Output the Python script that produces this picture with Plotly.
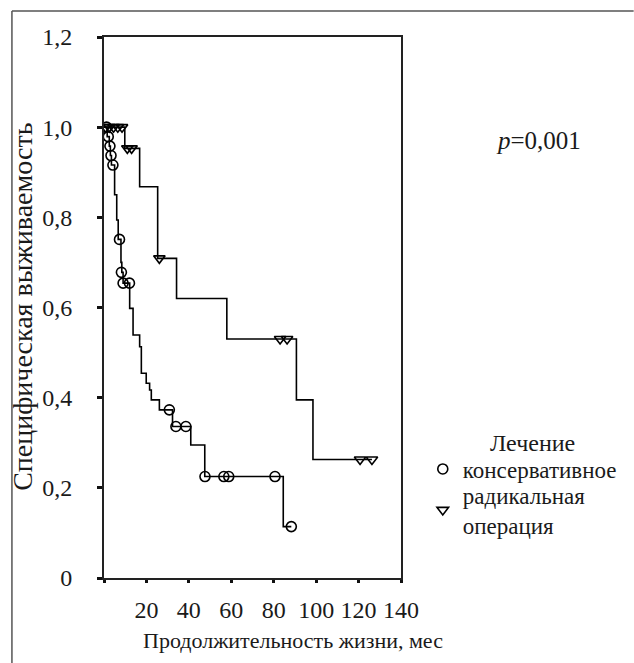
import plotly.graph_objects as go

# ---- data ----
cons_times = [0, 1.5, 2.5, 3, 3.5, 5, 6, 6.7, 8, 8.4, 9, 12.1, 13.7, 16.8, 17.6, 19.9,
              21.5, 22.3, 26.1, 32.3, 40.9, 47.5, 84.5]
cons_surv = [1.0, 0.979, 0.958, 0.937, 0.916, 0.85, 0.794, 0.751, 0.70, 0.678, 0.654,
             0.598, 0.539, 0.513, 0.454, 0.432, 0.417, 0.395, 0.373, 0.336, 0.295,
             0.225, 0.114]
cons_end = 88.3
cons_cens_t = [1.2, 2.0, 2.8, 3.3, 4.2, 7.3, 8.2, 9.0, 12.0, 30.8, 33.9, 38.6, 47.6,
               56.5, 58.8, 80.6, 88.3]
cons_cens_s = [1.0, 0.979, 0.958, 0.937, 0.916, 0.751, 0.678, 0.654, 0.654, 0.373,
               0.336, 0.336, 0.225, 0.225, 0.225, 0.225, 0.114]

rad_times = [0, 9.8, 16.8, 25.3, 34.2, 57.9, 90.7, 98.5]
rad_surv = [1.0, 0.953, 0.868, 0.709, 0.620, 0.530, 0.395, 0.263]
rad_end = 126.3
rad_cens_t = [0.8, 2.5, 4.5, 6.5, 8.5, 11.0, 13.0, 26.1, 83.0, 86.3, 120.7, 126.3]
rad_cens_s = [1.0, 1.0, 1.0, 1.0, 1.0, 0.953, 0.953, 0.709, 0.53, 0.53, 0.263, 0.263]

x_ticks = [0, 20, 40, 60, 80, 100, 120, 140]
x_ticktext = ["", "20", "40", "60", "80", "100", "120", "140"]
y_ticks = [0, 0.2, 0.4, 0.6, 0.8, 1.0, 1.2]
y_ticktext = ["0", "0,2", "0,4", "0,6", "0,8", "1,0", "1,2"]

names = ["консервативное", "радикальная<br>операция"]
legend_title = "Лечение"

FONT = "Liberation Serif"
TXT = "#1a1a1a"
W, H = 634, 663
L, R, T, B = 104, 404, 37, 578

fig = go.Figure()

fig.add_trace(go.Scatter(x=cons_times + [cons_end], y=cons_surv + [cons_surv[-1]],
                         mode="lines", line=dict(color="black", width=1.6, shape="hv"),
                         showlegend=False, hoverinfo="skip"))
fig.add_trace(go.Scatter(x=rad_times + [rad_end], y=rad_surv + [rad_surv[-1]],
                         mode="lines", line=dict(color="black", width=1.6, shape="hv"),
                         showlegend=False, hoverinfo="skip"))
fig.add_trace(go.Scatter(x=cons_cens_t, y=cons_cens_s, mode="markers", name=names[0],
                         legend="legend",
                         marker=dict(symbol="circle-open", size=10, color="black",
                                     line=dict(width=1.6, color="black"))))
fig.add_trace(go.Scatter(x=rad_cens_t, y=rad_cens_s, mode="markers", name=names[1],
                         legend="legend2",
                         marker=dict(symbol="triangle-down-open", size=10, color="black",
                                     line=dict(width=1.6, color="black"))))

def px2x(px):
    return (px - L) / (R - L)

def py2y(py):
    return (B - py) / (B - T)

shapes = [
    dict(type="line", xref="paper", yref="paper", x0=px2x(11), x1=px2x(11),
         y0=py2y(11), y1=py2y(H + 5), line=dict(color="#555", width=1.5)),
    dict(type="line", xref="paper", yref="paper", x0=px2x(11), x1=px2x(W + 5),
         y0=py2y(11), y1=py2y(11), line=dict(color="#555", width=1.5)),
]

leg_common = dict(xref="paper", yref="paper", xanchor="left", yanchor="middle",
                  bgcolor="rgba(0,0,0,0)", font=dict(size=23, family=FONT, color=TXT),
                  itemwidth=30, valign="middle", tracegroupgap=0)

fig.update_layout(
    width=W, height=H,
    margin=dict(l=L, r=W - R, t=T, b=H - B),
    paper_bgcolor="white", plot_bgcolor="white",
    font=dict(family=FONT, size=23, color=TXT),
    shapes=shapes,
    showlegend=True,
    legend=dict(x=px2x(426), y=py2y(469), **leg_common),
    legend2=dict(x=px2x(426), y=py2y(510), **leg_common),
    annotations=[
        dict(text=legend_title, xref="paper", yref="paper", x=px2x(537), y=py2y(443),
             showarrow=False, font=dict(size=24, family=FONT, color=TXT),
             xanchor="center", yanchor="middle"),
        dict(text="<i>p</i>=0,001", xref="paper", yref="paper", x=px2x(543), y=py2y(140),
             showarrow=False, font=dict(size=25, family=FONT, color=TXT),
             xanchor="center", yanchor="middle"),
        dict(text="Продолжительность жизни, мес", xref="paper", yref="paper",
             x=px2x(295), y=py2y(640), showarrow=False,
             font=dict(size=22, family=FONT, color=TXT),
             xanchor="center", yanchor="middle"),
        dict(text="Специфическая выживаемость", xref="paper", yref="paper",
             x=px2x(21), y=py2y(307), showarrow=False, textangle=-90,
             font=dict(size=28, family=FONT, color=TXT),
             xanchor="center", yanchor="middle"),
    ],
)

fig.update_xaxes(range=[0, 140], tickvals=x_ticks, ticktext=x_ticktext,
                 showline=True, linecolor="#222", linewidth=2, mirror=True,
                 ticks="outside", ticklen=3, tickwidth=3, tickcolor="#111",
                 showgrid=False, zeroline=False, ticklabelstandoff=6,
                 tickfont=dict(size=24, family=FONT, color=TXT))
fig.update_yaxes(range=[0, 1.2], tickvals=y_ticks, ticktext=y_ticktext,
                 showline=True, linecolor="#222", linewidth=2, mirror=True,
                 ticks="outside", ticklen=5, tickwidth=3, tickcolor="#111",
                 showgrid=False, zeroline=False, ticklabelstandoff=20,
                 tickfont=dict(size=24, family=FONT, color=TXT))

fig.write_html("out.html")
